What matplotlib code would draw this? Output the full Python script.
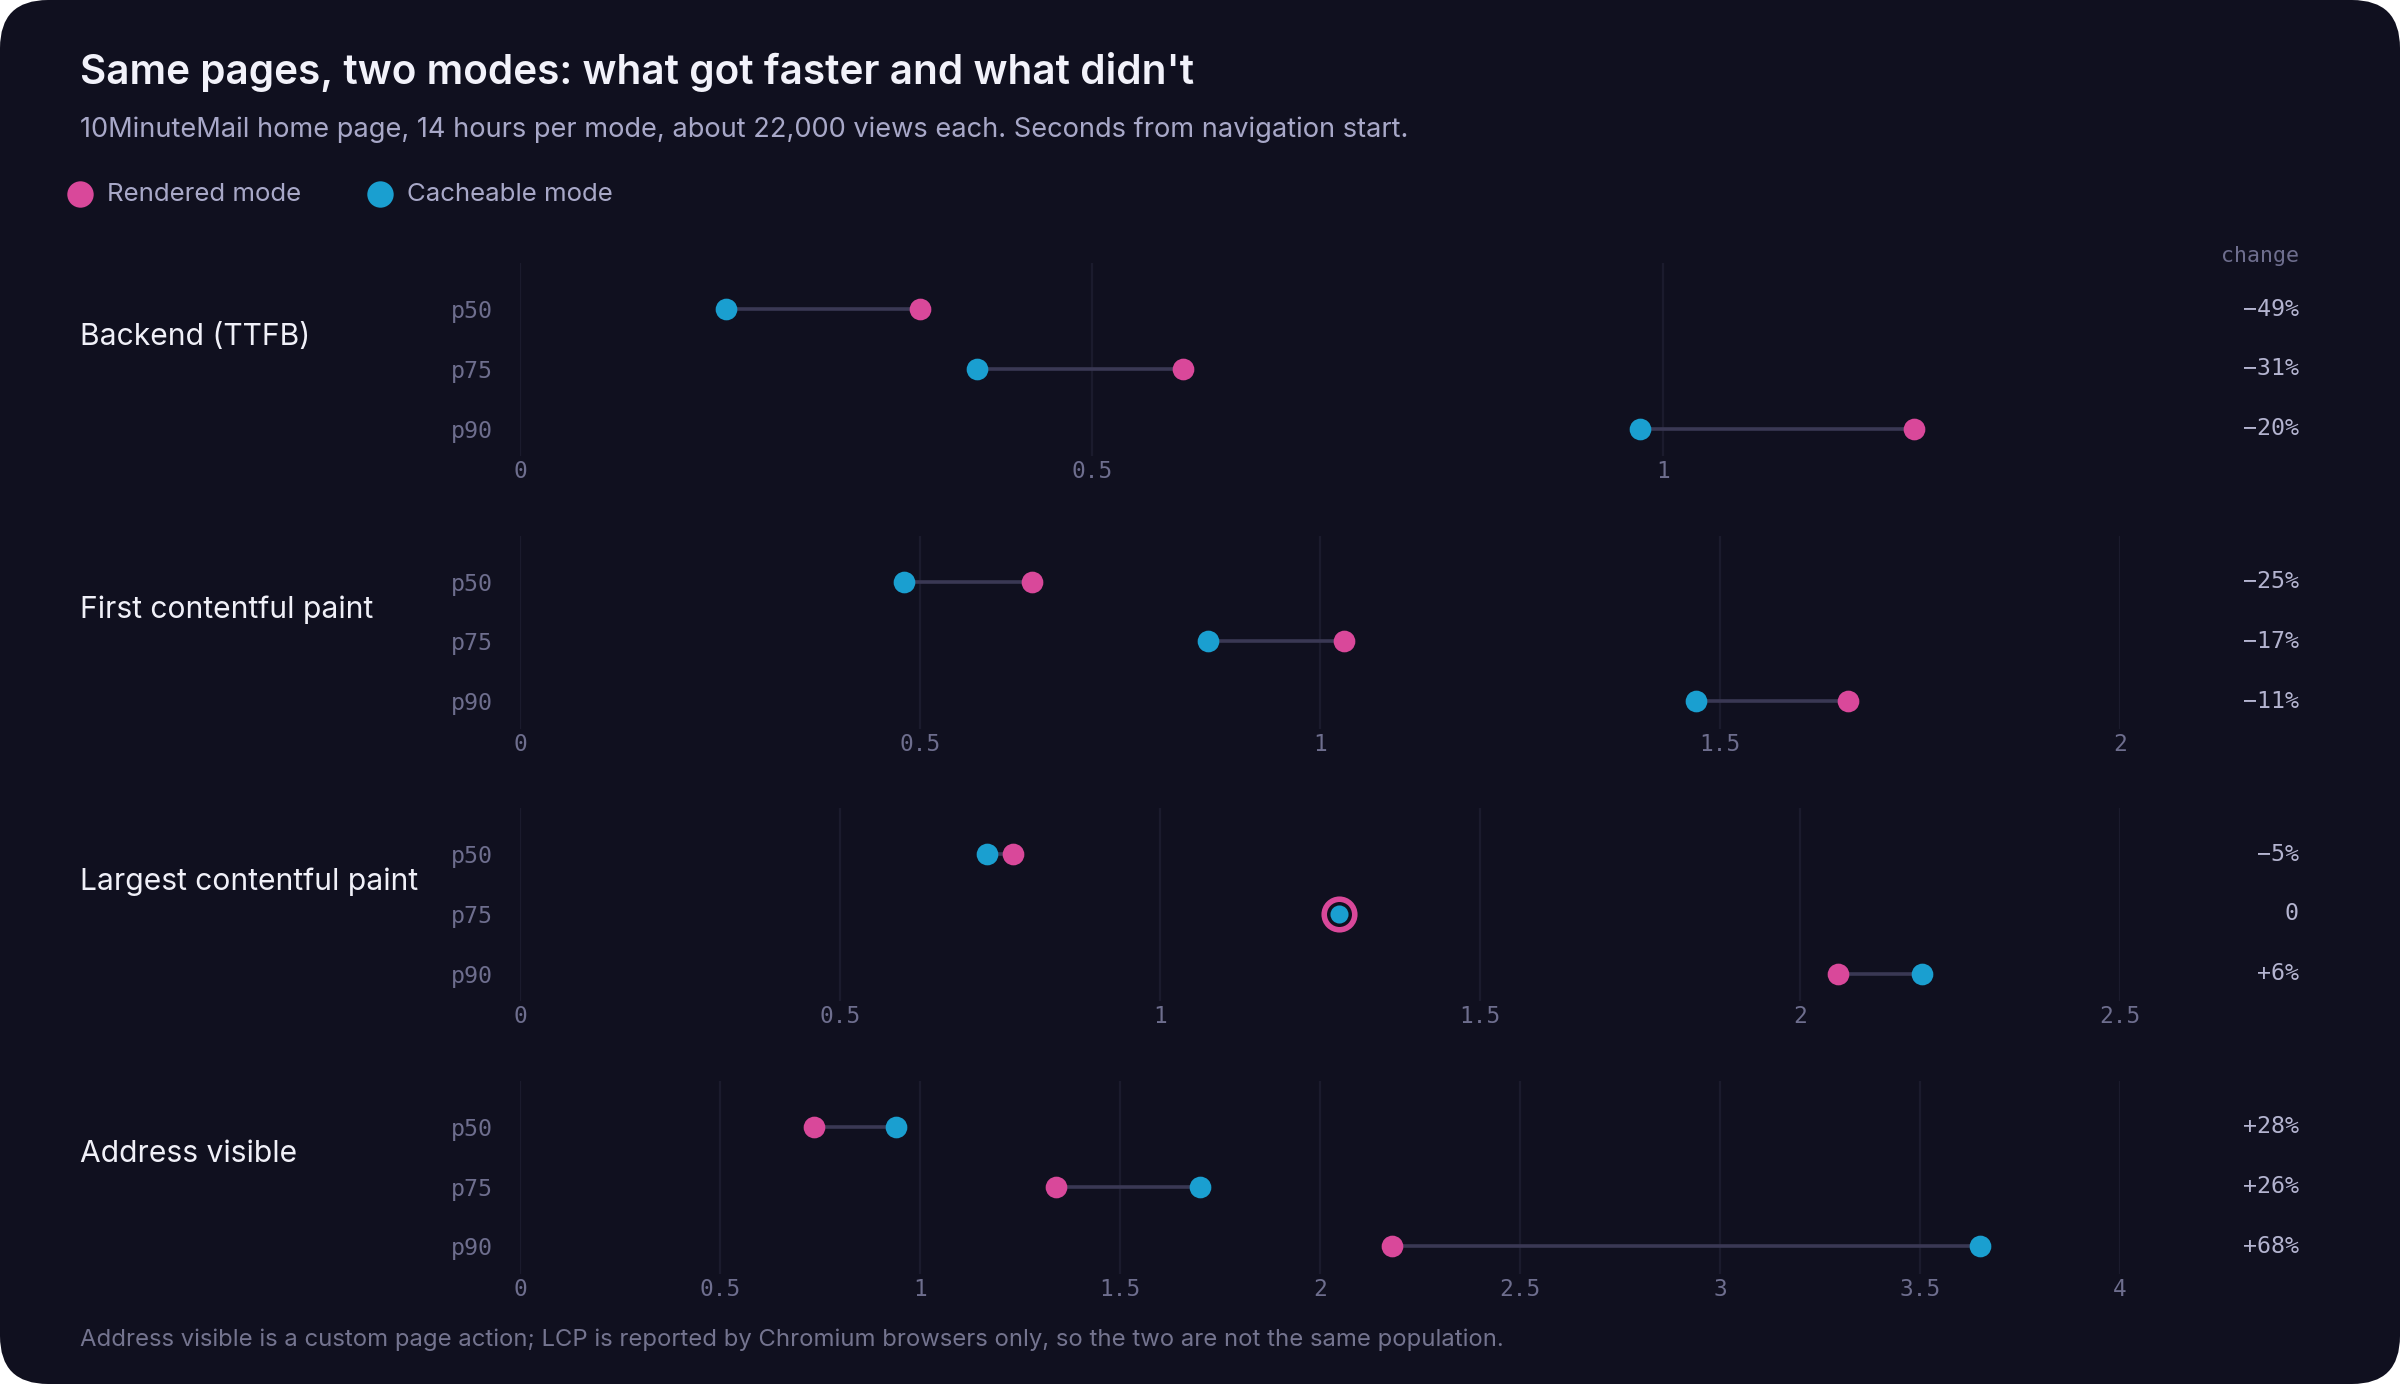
import matplotlib
matplotlib.use("Agg")
import matplotlib.pyplot as plt
from matplotlib.patches import FancyBboxPatch

metrics = ["Backend (TTFB)", "First contentful paint", "Largest contentful paint", "Address visible"]
pcts = ["p50", "p75", "p90"]
rendered = [[0.35, 0.58, 1.22], [0.64, 1.03, 1.66], [0.77, 1.28, 2.06], [0.735, 1.34, 2.18]]
cacheable = [[0.18, 0.40, 0.98], [0.48, 0.86, 1.47], [0.73, 1.28, 2.19], [0.94, 1.70, 3.65]]
changes = [["−49%", "−31%", "−20%"], ["−25%", "−17%", "−11%"], ["−5%", "0", "+6%"], ["+28%", "+26%", "+68%"]]
xmax = [1.4, 2.0, 2.5, 4.0]
ticks = [[0, 0.5, 1], [0, 0.5, 1, 1.5, 2], [0, 0.5, 1, 1.5, 2, 2.5], [0, 0.5, 1, 1.5, 2, 2.5, 3, 3.5, 4]]

BG = "#10101f"; PINK = "#d9489a"; CYAN = "#1a9fd0"; LINE = "#3a3854"
GRID = "#1b1b2d"; TICK = "#6e6e8e"; TXT = "#a8a8c8"; CHG = "#b4b4d0"
W, H = 1568, 904
def fx(x): return x / W
def fy(y): return 1 - y / H

fig = plt.figure(figsize=(12, 6.92), dpi=200, facecolor="white")
fig.patches.append(FancyBboxPatch((0, 0), 1, 1, boxstyle="round,pad=0,rounding_size=0.02",
                                  transform=fig.transFigure, fc=BG, ec="none", zorder=-10,
                                  mutation_aspect=12 / 6.92))
fig.text(fx(52), fy(47), "Same pages, two modes: what got faster and what didn't", family="Inter",
         fontsize=14.6, weight="semibold", color="#f2f2fa", va="center")
fig.text(fx(52), fy(85), "10MinuteMail home page, 14 hours per mode, about 22,000 views each. Seconds from navigation start.",
         family="Inter", fontsize=9.8, color=TXT, va="center")
for x, c, lab in [(52, PINK, "Rendered mode"), (248, CYAN, "Cacheable mode")]:
    fig.lines.append(plt.Line2D([fx(x)], [fy(127)], marker="o", ms=8.5, color=c, transform=fig.transFigure))
    fig.text(fx(x + 18), fy(127), lab, family="Inter", fontsize=9.3, color=TXT, va="center")
fig.text(fx(1502), fy(167), "change", family="DejaVu Sans Mono", fontsize=7.8, color=TICK, ha="right", va="center")
fig.text(fx(52), fy(875), "Address visible is a custom page action; LCP is reported by Chromium browsers only, so the two are not the same population.",
         family="Inter", fontsize=8.6, color="#74748f", va="center")

for i, m in enumerate(metrics):
    top = 172 + 178 * i
    ax = fig.add_axes([fx(340), fy(top + 126), fx(1385) - fx(340), 126 / H])
    ax.set_facecolor("none")
    ax.set_xlim(0, xmax[i])
    ax.set_ylim(2 + 18 / 39, -30 / 39)
    for s in ax.spines.values(): s.set_visible(False)
    ax.set_xticks(ticks[i])
    ax.set_xticklabels([f"{t:g}" for t in ticks[i]], family="DejaVu Sans Mono", fontsize=8.2, color=TICK)
    ax.tick_params(axis="x", length=0, pad=1.5)
    ax.set_yticks(range(3))
    ax.set_yticklabels(pcts, family="DejaVu Sans Mono", fontsize=8.4, color=TICK)
    ax.tick_params(axis="y", length=0, pad=10)
    ax.grid(axis="x", color=GRID, lw=0.8)
    ax.set_axisbelow(True)
    for j in range(3):
        r, c = rendered[i][j], cacheable[i][j]
        if r == c:
            ax.plot([r], [j], "o", ms=11, mfc=BG, mec=PINK, mew=2, zorder=3)
            ax.plot([c], [j], "o", ms=5.5, color=CYAN, zorder=4)
        else:
            ax.plot([r, c], [j, j], color=LINE, lw=1.3, zorder=2, solid_capstyle="butt")
            ax.plot([r], [j], "o", ms=6.8, color=PINK, zorder=3)
            ax.plot([c], [j], "o", ms=6.8, color=CYAN, zorder=3)
        fig.text(fx(1502), fy(top + 30 + 39 * j), changes[i][j], family="DejaVu Sans Mono",
                 fontsize=8.4, color=CHG, ha="right", va="center")
    fig.text(fx(52), fy(top + 48), m, family="Inter", fontsize=10.8, color="#f0f0f8", va="center")

fig.savefig("out.png", dpi=200, facecolor="white")
